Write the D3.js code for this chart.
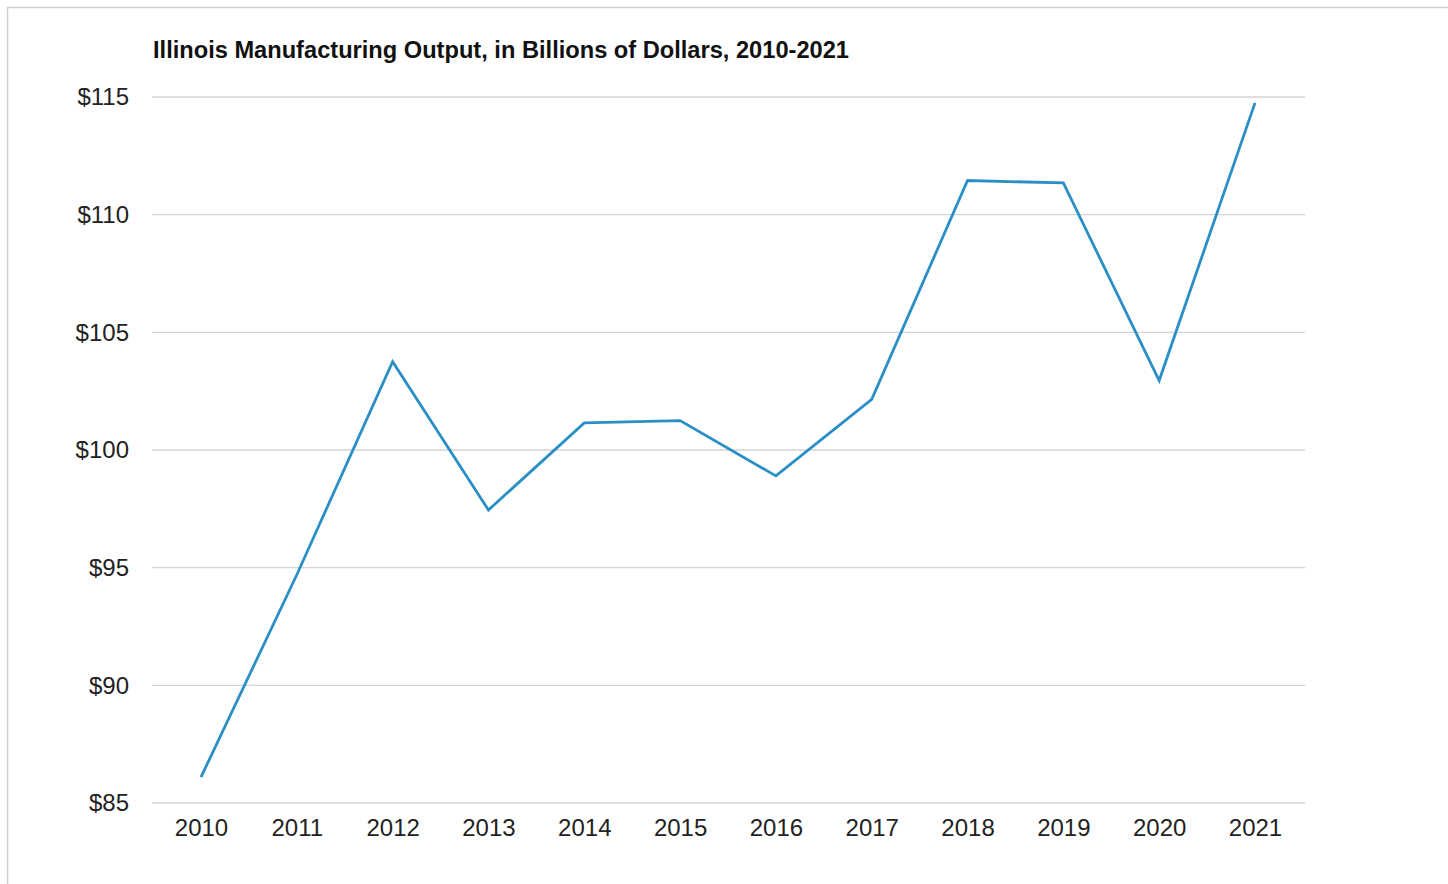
<!DOCTYPE html>
<html><head><meta charset="utf-8">
<script src="https://cdn.jsdelivr.net/npm/d3@7"></script>
<style>
body{margin:0;background:#fff;}
svg{display:block;}
text{font-family:"Liberation Sans",Arial,Helvetica,sans-serif;}
</style></head>
<body>
<svg id="chart" width="1448" height="884"></svg>
<script>
const years = ["2010","2011","2012","2013","2014","2015","2016","2017","2018","2019","2020","2021"];
const output = [86.1,94.7,103.75,97.45,101.15,101.25,98.9,102.15,111.45,111.35,102.95,114.75];
const yTicks = [85,90,95,100,105,110,115];
const title = "Illinois Manufacturing Output, in Billions of Dollars, 2010-2021";

(function(){
const svg = d3.select("#chart");
svg.append("rect").attr("x",7.5).attr("y",7.5).attr("width",1460).attr("height",900)
  .attr("fill","none").attr("stroke","#cfcfcf").attr("stroke-width",1.5);

const pLeft=152, pRight=1305, pTop=97, pBottom=803;
const x = d3.scalePoint().domain(years).range([201,1255]);
const y = d3.scaleLinear().domain([85,115]).range([pBottom,pTop]);

svg.append("text").attr("x",153).attr("y",58).text(title)
  .attr("font-size",23.5).attr("font-weight","bold").attr("fill","#111")
  .attr("textLength",696).attr("lengthAdjust","spacingAndGlyphs");

const grid = svg.append("g");
grid.selectAll("line").data(yTicks).join("line")
  .attr("x1",pLeft).attr("x2",pRight).attr("y1",d=>y(d)).attr("y2",d=>y(d))
  .attr("stroke","#d4d4d4").attr("stroke-width",1.3);

const yAxis = svg.append("g").attr("transform",`translate(${pLeft},0)`)
  .call(d3.axisLeft(y).tickValues(yTicks).tickFormat(d=>"$"+d).tickSize(0).tickPadding(23));
yAxis.select(".domain").remove();
yAxis.selectAll("text").attr("font-size",24).attr("fill","#222").attr("font-family","Liberation Sans, Arial, sans-serif");

const xAxis = svg.append("g").attr("transform",`translate(0,${pBottom})`)
  .call(d3.axisBottom(x).tickSize(0).tickPadding(16));
xAxis.select(".domain").remove();
xAxis.selectAll("text").attr("font-size",24).attr("fill","#222").attr("font-family","Liberation Sans, Arial, sans-serif");

const line = d3.line().x((d,i)=>x(years[i])).y(d=>y(d));
svg.append("path").datum(output).attr("d",line)
  .attr("fill","none").attr("stroke","#2b8fc6").attr("stroke-width",2.8).attr("stroke-linejoin","miter");
})();
</script>
</body></html>
